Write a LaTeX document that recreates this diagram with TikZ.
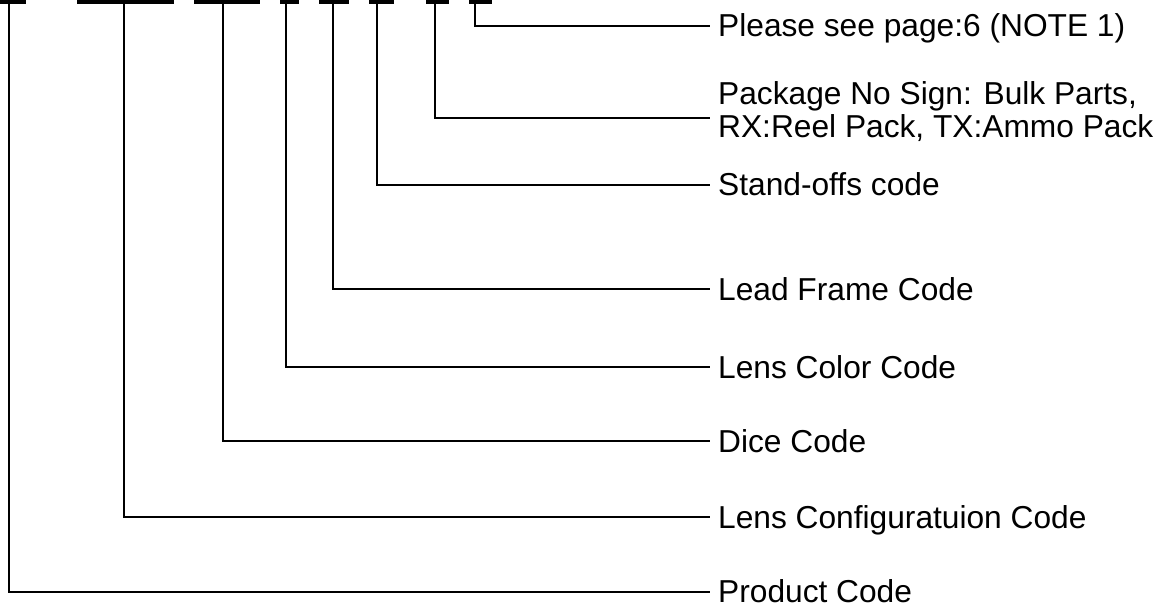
\documentclass[tikz,border=0pt]{standalone}
\usepackage{fontspec}
\setmainfont{Liberation Sans}
\begin{document}
\begin{tikzpicture}[x=1pt,y=-1pt,
  bar/.style={line width=4pt},
  lead/.style={line width=1.6pt},
  lbl/.style={anchor=base west,inner sep=0pt,text depth=0pt,font=\fontsize{31.7}{33}\selectfont,align=left}]
\useasboundingbox (0,0) rectangle (1173,607);
% top bars
\draw[bar] (0,2) -- (26,2);
\draw[bar] (77,2) -- (174,2);
\draw[bar] (194,2) -- (260,2);
\draw[bar] (280,2) -- (299,2);
\draw[bar] (319,2) -- (349,2);
\draw[bar] (369,2) -- (394,2);
\draw[bar] (426,2) -- (449,2);
\draw[bar] (469,2) -- (492,2);
% stem tops
\coordinate (s1) at (9,0);
\coordinate (s2) at (124,0);
\coordinate (s3) at (223,0);
\coordinate (s4) at (286,0);
\coordinate (s5) at (333,0);
\coordinate (s6) at (377,0);
\coordinate (s7) at (435,0);
\coordinate (s8) at (475,0);
% line ends
\coordinate (e8) at (710,26);
\coordinate (e7) at (710,118);
\coordinate (e6) at (710,185);
\coordinate (e5) at (710,289);
\coordinate (e4) at (710,367);
\coordinate (e3) at (710,441);
\coordinate (e2) at (710,517);
\coordinate (e1) at (710,592);
% labels
\node[lbl] (l8) at (718,37) {Please see page:6 (NOTE 1)};
\node[lbl] (l7) at (718,138) {Package No Sign: Bulk Parts,\\RX:Reel Pack, TX:Ammo Pack};
\node[lbl] (l6) at (718,196) {Stand-offs code};
\node[lbl] (l5) at (718,300) {Lead Frame Code};
\node[lbl] (l4) at (718,378) {Lens Color Code};
\node[lbl] (l3) at (718,452) {Dice Code};
\node[lbl] (l2) at (718,528) {Lens Configuratuion Code};
\node[lbl] (l1) at (718,602) {Product Code};
% leaders
\foreach \i in {1,...,8} \draw[lead] (s\i) |- (e\i);
\end{tikzpicture}
\end{document}
